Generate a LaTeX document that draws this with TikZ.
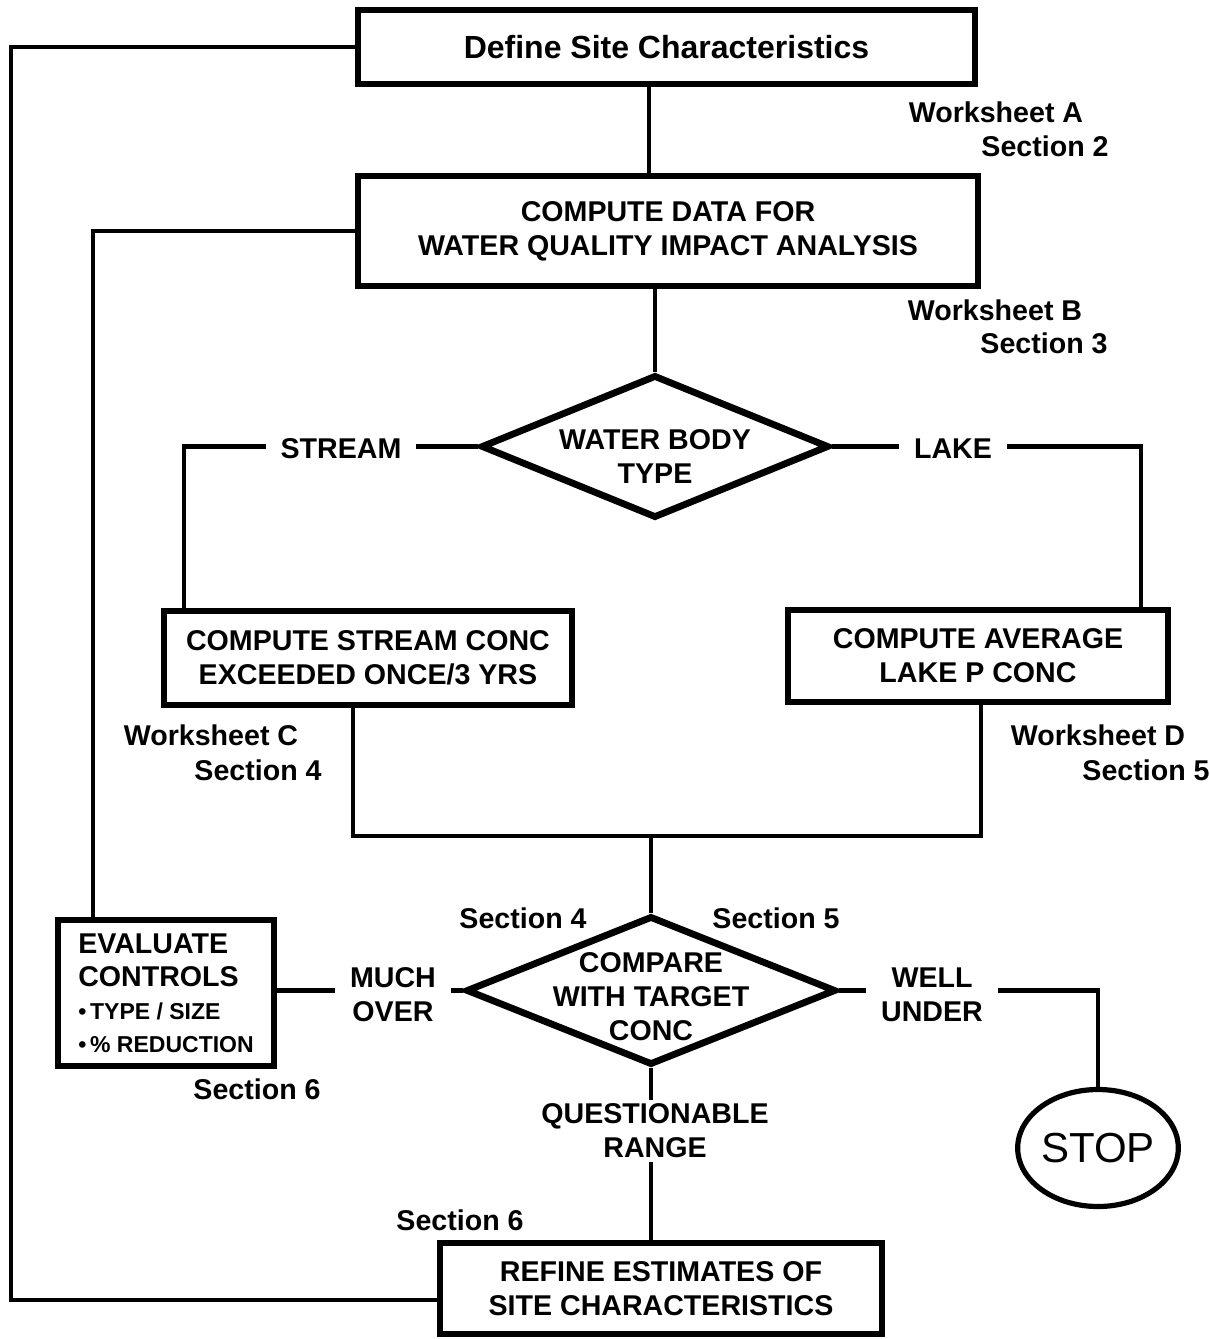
\documentclass[tikz,border=0pt]{standalone}
\usepackage{fontspec}
\setmainfont{Liberation Sans}
\usetikzlibrary{shapes.geometric,backgrounds,calc}
\begin{document}
\begin{tikzpicture}[x=0.5pt,y=-0.5pt,
  box/.style={draw, line width=2.8pt, rectangle, inner sep=0pt, align=center, font=\bfseries\fontsize{14.3}{17}\selectfont},
  dia/.style={draw, diamond, line width=3.4pt, inner sep=0pt},
  dtext/.style={align=center, font=\bfseries\fontsize{14.3}{17}\selectfont, inner sep=0pt},
  conn/.style={line width=2.1pt},
  lbl/.style={font=\bfseries\fontsize{14.3}{18}\selectfont, inner sep=0pt},
  gap/.style={fill=white, align=center, font=\bfseries\fontsize{14.3}{17}\selectfont, inner xsep=7.5pt, inner ysep=2pt},
]
\useasboundingbox (0,0) rectangle (1210,1339);

% boxes and decisions
\node[box, minimum width=308.5pt, minimum height=37pt, font=\bfseries\fontsize{16}{20}\selectfont] (b1) at (666.5,47) {Define Site Characteristics};
\node[box, minimum width=310pt, minimum height=55pt] (b2) at (668,231) {COMPUTE DATA FOR\\WATER QUALITY IMPACT ANALYSIS};
\node[dia, minimum width=174pt, minimum height=71.5pt] (d1) at (655,446.5) {};
\node[dtext] (d1t) at (655,457) {WATER BODY\\TYPE};
\node[box, minimum width=204pt, minimum height=47pt] (sb) at (368,658) {COMPUTE STREAM CONC\\EXCEEDED ONCE/3 YRS};
\node[box, minimum width=190pt, minimum height=46pt] (lb) at (978,656) {COMPUTE AVERAGE\\LAKE P CONC};
\node[dia, minimum width=185pt, minimum height=74.5pt] (d2) at (651,990.5) {};
\node[dtext] (d2t) at (651,997) {COMPARE\\WITH TARGET\\CONC};
\node[box, minimum width=108pt, minimum height=73pt, align=left, font=\bfseries\fontsize{14.3}{16.5}\selectfont] (ev) at (166,993)
  {EVALUATE\\CONTROLS\\{\fontsize{11.5}{14}\selectfont •\,TYPE / SIZE}\\{\fontsize{11.5}{14}\selectfont •\,\% REDUCTION}};
\node[ellipse, draw, line width=2.6pt, minimum width=80pt, minimum height=58.5pt, inner sep=0pt, font=\fontsize{21}{24}\selectfont] (stop) at (1098,1148) {STOP};
\node[box, minimum width=221pt, minimum height=45.5pt] (b6) at (661,1288.5) {REFINE ESTIMATES OF\\SITE CHARACTERISTICS};

% helper coordinates
\coordinate (tl) at (11,47);
\coordinate (bl) at (11,1300);
\coordinate (ax1) at (649,0);
\coordinate (jl) at (353,836);
\coordinate (jr) at (981,836);

% connector labels
\node[gap] (lstream) at (341,449) {STREAM};
\node[gap] (llake) at (953,449) {LAKE};
\node[gap] (lmuch) at (393,995) {MUCH\\OVER};
\node[gap] (lwell) at (932,995) {WELL\\UNDER};
\node[gap] (lq) at (655,1131) {QUESTIONABLE\\RANGE};

% side notes
\node[lbl] (wa) at (996,112) {Worksheet A};
\node[lbl] (s2) at (1045,146) {Section 2};
\node[lbl] (wb) at (995,310) {Worksheet B};
\node[lbl] (s3) at (1044,343) {Section 3};
\node[lbl] (wc) at (211,735) {Worksheet C};
\node[lbl] (s4a) at (258,770) {Section 4};
\node[lbl] (wd) at (1098,735) {Worksheet D};
\node[lbl] (s5a) at (1146,770) {Section 5};
\node[lbl] (s4b) at (523,918) {Section 4};
\node[lbl] (s5b) at (776,918) {Section 5};
\node[lbl] (s6a) at (257,1089) {Section 6};
\node[lbl] (s6b) at (460,1220) {Section 6};

% connectors
\begin{scope}[on background layer]
\draw[conn] (b1.west) -- (tl) -- (bl) -- (bl -| b6.west);
\draw[conn] (b1.south -| ax1) -- (b2.north -| ax1);
\draw[conn] (b2.south -| d1.north) -- (d1.north);
\draw[conn] (b2.west) -| ([xshift=19pt]ev.north west);
\draw[conn] (d1.west) -| ([xshift=11.5pt]sb.north west);
\draw[conn] (d1.east) -| ([xshift=-15pt]lb.north east);
\draw[conn] (sb.south -| jl) -- (jl) -- (jr) -- (lb.south -| jr);
\draw[conn] (d2.north |- jl) -- (d2.north);
\draw[conn] (d2.west) -- (d2.west -| ev.east);
\draw[conn] (d2.east) -| (stop.north);
\draw[conn] (d2.south) -- (d2.south |- b6.north);
\end{scope}
\end{tikzpicture}
\end{document}
